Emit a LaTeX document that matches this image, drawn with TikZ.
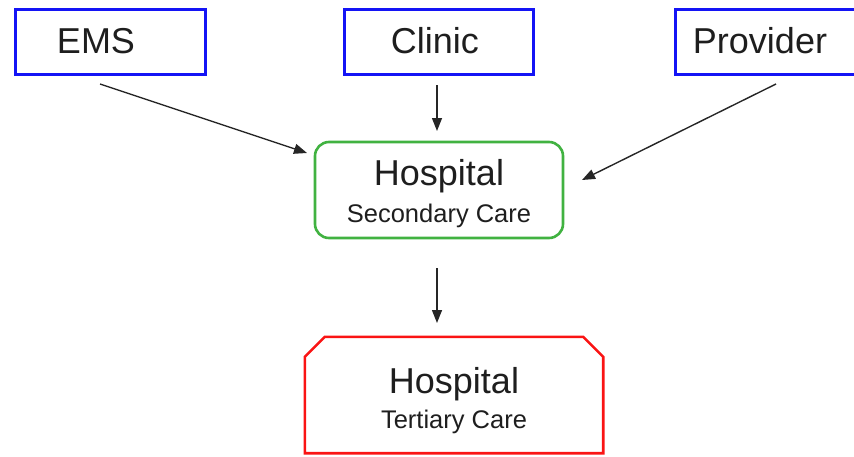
\documentclass[tikz,border=0pt]{standalone}
\usepackage{fontspec}
\setmainfont{Liberation Sans}
\usetikzlibrary{arrows.meta}
\definecolor{boxblue}{RGB}{20,20,245}
\definecolor{boxgreen}{RGB}{65,178,65}
\definecolor{boxred}{RGB}{250,20,20}
\definecolor{txt}{RGB}{30,30,30}
\tikzset{
  bluebox/.style={draw=boxblue, line width=3pt, inner sep=0pt, anchor=north west},
  bigtxt/.style={text=txt, font=\fontsize{36}{40}\selectfont, anchor=base, inner sep=0pt},
  smalltxt/.style={text=txt, font=\fontsize{25.5}{30}\selectfont, anchor=base, inner sep=0pt},
  arr/.style={draw=black!85, line width=1.4pt, -{Triangle[length=13pt,width=10pt]}},
  redline/.style={draw=boxred, line width=2.6pt, line join=miter},
}
\begin{document}
\begin{tikzpicture}[x=1pt,y=-1pt]
\useasboundingbox (0,0) rectangle (854,456);
% top boxes
\node[bluebox, minimum width=190pt, minimum height=65pt] (ems) at (14,8) {};
\node[bluebox, minimum width=189pt, minimum height=65pt] (clinic) at (343,8) {};
\node[bluebox, minimum width=200pt, minimum height=65pt] (provider) at (674,8) {};
\node[bigtxt] (emst) at (96,53) {EMS};
\node[bigtxt] (clinict) at (435,53) {Clinic};
\node[bigtxt] (providert) at (760,53) {Provider};
% secondary care
\node[draw=boxgreen, line width=2.6pt, rounded corners=14pt, minimum width=248pt, minimum height=96pt, inner sep=0pt] (sec) at (439,190) {};
\node[bigtxt] (sect1) at (439,185) {Hospital};
\node[smalltxt] (sect2) at (439,222) {Secondary Care};
% tertiary care (chamfered top corners)
\node[minimum width=298pt, minimum height=116pt, inner sep=0pt] (ter) at (454,395) {};
\draw[redline] ([yshift=-20pt]ter.north west) -- ([xshift=20pt]ter.north west)
  -- ([xshift=-20pt]ter.north east) -- ([yshift=-20pt]ter.north east)
  -- (ter.south east) -- (ter.south west) -- cycle;
\node[bigtxt] (tert1) at (454,393) {Hospital};
\node[smalltxt] (tert2) at (454,428) {Tertiary Care};
% connector end points
\coordinate (e1) at (100,84);
\coordinate (e2) at (307,153);
\coordinate (c1) at (437,85);
\coordinate (c2) at (437,131);
\coordinate (p1) at (776,84);
\coordinate (p2) at (582,180);
\coordinate (s1) at (437,268);
\coordinate (s2) at (437,323);
\draw[arr] (e1) -- (e2);
\draw[arr] (c1) -- (c2);
\draw[arr] (p1) -- (p2);
\draw[arr] (s1) -- (s2);
\end{tikzpicture}
\end{document}
